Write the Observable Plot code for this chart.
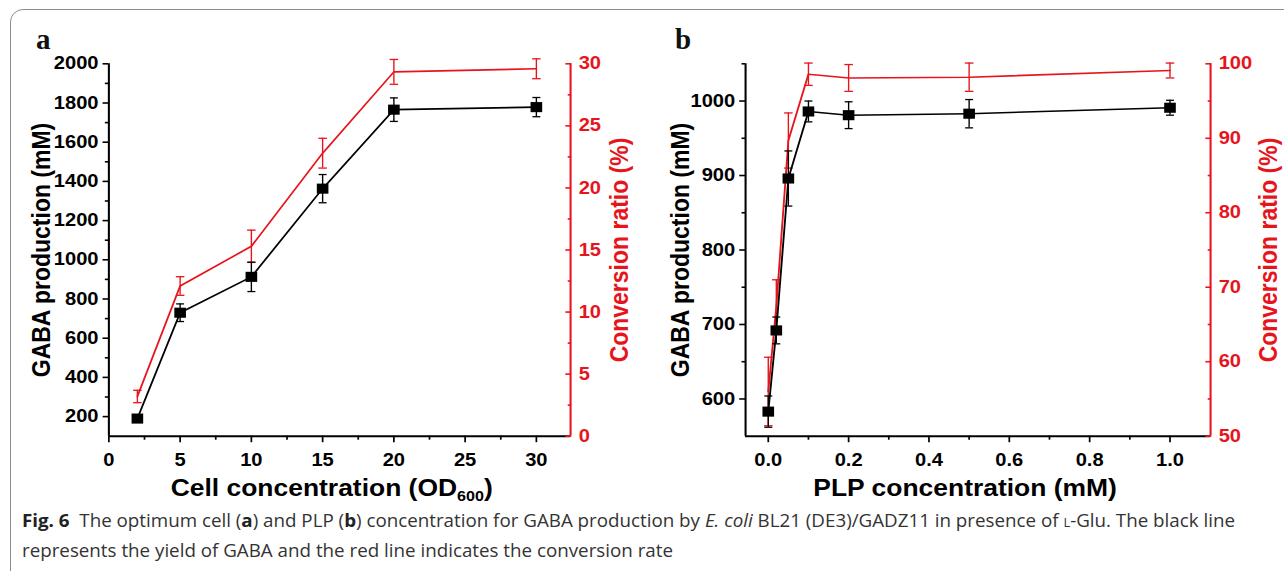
<!DOCTYPE html>
<html><head><meta charset="utf-8">
<script src="https://cdn.jsdelivr.net/npm/d3@7"></script>
<script src="https://cdn.jsdelivr.net/npm/@observablehq/plot@0.6"></script>
<style>
html,body{margin:0;padding:0;background:#fff;width:1284px;height:571px;overflow:hidden;position:relative;}
#frame{position:absolute;left:10px;top:9px;width:1320px;height:620px;border:1.5px solid #8c8c8c;border-radius:13px;box-sizing:border-box;}
.panel{position:absolute;top:20px;}
.plabel{position:absolute;font-family:"Liberation Serif","Times New Roman",serif;font-weight:bold;font-size:29px;line-height:29px;color:#111;}
#caption{position:absolute;left:22px;top:505px;font-family:"Open Sans","Noto Sans",sans-serif;font-size:17.5px;line-height:30px;color:#333;white-space:nowrap;transform-origin:left top;}
#caption b{font-weight:bold;color:#222;}
.sc{font-variant:small-caps;}
</style>
</head><body>
<div id="frame"></div>
<div id="panelA" class="panel" style="left:20px"></div>
<div id="panelB" class="panel" style="left:645px"></div>
<div class="plabel" style="left:36px;top:25px">a</div>
<div class="plabel" style="left:675px;top:25px">b</div>
<div id="caption"><span id="line1"><b>Fig. 6</b>&nbsp; The optimum cell (<b>a</b>) and PLP (<b>b</b>) concentration for GABA production by <i>E. coli</i> BL21 (DE3)/GADZ11 in presence of <span class="sc">l</span>-Glu. The black line</span><br>represents the yield of GABA and the red line indicates the conversion rate</div>
<script>
// ---------- data: panel a (cell concentration) ----------
const cellOD      = [2, 5, 10, 15, 20, 30];
const gabaA       = [190, 730, 913, 1363, 1766, 1779];
const gabaAErr    = [18, 45, 75, 72, 60, 49];
const convA       = [3.2, 12.1, 15.3, 22.8, 29.35, 29.6];
const convAErr    = [0.5, 0.75, 1.3, 1.2, 1.0, 0.8];
const xTicksA     = [0, 5, 10, 15, 20, 25, 30];
const xMinorA     = [2.5, 7.5, 12.5, 17.5, 22.5, 27.5];
const yTicksA     = [200, 400, 600, 800, 1000, 1200, 1400, 1600, 1800, 2000];
const yMinorA     = [300, 500, 700, 900, 1100, 1300, 1500, 1700, 1900];
const rTicksA     = [0, 5, 10, 15, 20, 25, 30];
const rMinorA     = [2.5, 7.5, 12.5, 17.5, 22.5, 27.5];

// ---------- data: panel b (PLP concentration) ----------
const plpConc     = [0, 0.02, 0.05, 0.1, 0.2, 0.5, 1.0];
const gabaB       = [583, 692, 896, 986, 981, 983, 991];
const gabaBErr    = [21, 18, 37, 14, 18, 19, 10];
const convB       = [56, 67.4, 89.7, 98.6, 98.1, 98.2, 99.1];
const convBErr    = [4.6, 3.6, 3.7, 1.5, 1.8, 1.9, 1.0];
const xTicksB     = [0, 0.2, 0.4, 0.6, 0.8, 1.0];
const xMinorB     = [0.1, 0.3, 0.5, 0.7, 0.9];
const yTicksB     = [600, 700, 800, 900, 1000];
const yMinorB     = [650, 750, 850, 950, 1050];
const rTicksB     = [50, 60, 70, 80, 90, 100];
const rMinorB     = [55, 65, 75, 85, 95];

const RED = "#e8141c";
const FONT = "'Liberation Sans', Arial, Helvetica, sans-serif";
const S = 1.15; // horizontal stretch of the original figure
const capSymbol = {draw(ctx, size) { const w = Math.sqrt(size) / 2; ctx.moveTo(-w, 0); ctx.lineTo(w, 0); }};

function makePanel(o) {
  const data = o.xs.map((x, i) => ({x, g: o.g[i], ge: o.ge[i], c: o.c[i], ce: o.ce[i]}));
  const conv = d3.scaleLinear(o.rDomain, o.yDomain);
  const tickTxt = {fontSize: 17.5, fontWeight: "bold", fontFamily: FONT};
  const titleTxt = {fontSize: 23, fontWeight: "bold", fontFamily: FONT, textAnchor: "middle"};
  const W = o.width / S;
  const el = Plot.plot({
    width: W, height: o.height,
    marginLeft: o.ml / S, marginRight: o.mr / S, marginTop: o.mt, marginBottom: o.mb,
    x: {domain: o.xDomain},
    y: {domain: o.yDomain},
    style: {fontFamily: FONT, background: "transparent", overflow: "visible"},
    marks: [
      // axis lines
      Plot.ruleX([o.xDomain[0]], {stroke: "black", strokeWidth: 1.8}),
      Plot.ruleX([o.xDomain[1]], {stroke: RED, strokeWidth: 1.8}),
      Plot.ruleY([o.yDomain[0]], {stroke: "black", strokeWidth: 2}),
      // x axis
      Plot.axisX(o.xTicks, {anchor: "bottom", tickSize: 6.5, tickPadding: 11, strokeWidth: 1.5, tickFormat: o.xFmt, label: null, ...tickTxt}),
      Plot.axisX(o.xMinor, {anchor: "bottom", tickSize: 4, strokeWidth: 1.5, tickFormat: () => "", label: null}),
      // left axis
      Plot.axisY(o.yTicks, {anchor: "left", tickSize: 5, tickPadding: 4, strokeWidth: 1.6, tickFormat: d => String(d), label: null, ...tickTxt}),
      Plot.axisY(o.yMinor, {anchor: "left", tickSize: 3, strokeWidth: 1.6, tickFormat: () => "", label: null}),
      // right axis (ticks point inward)
      Plot.axisY(o.rTicks.map(conv), {anchor: "right", tickSize: 5, dx: -5, strokeWidth: 1.6, color: RED, tickFormat: () => "", label: null}),
      Plot.axisY(o.rMinor.map(conv), {anchor: "right", tickSize: 3, dx: -3, strokeWidth: 1.6, color: RED, tickFormat: () => "", label: null}),
      Plot.axisY(o.rTicks.map(conv), {anchor: "right", tickSize: 0, tickPadding: 7, color: RED, fill: RED, tickFormat: d => String(Math.round(conv.invert(d))), label: null, ...tickTxt}),
      // axis titles
      Plot.text([o.yTitle], {frameAnchor: "left", dx: o.yTitleDx / S, rotate: -90, fill: "black", ...titleTxt}),
      Plot.text([o.rTitle], {frameAnchor: "right", dx: o.rTitleDx / S, rotate: -90, fill: RED, ...titleTxt}),
      Plot.text([o.xTitle], {frameAnchor: "bottom", dx: o.xTitleDx / S, dy: 60, fill: "black", ...titleTxt}),
      // red series: conversion ratio
      Plot.line(data, {x: "x", y: d => conv(d.c), stroke: RED, strokeWidth: 1.6}),
      Plot.ruleX(data, {x: "x", y1: d => conv(d.c - d.ce), y2: d => conv(d.c + d.ce), stroke: RED, strokeWidth: 1.2}),
      Plot.dot(data, {x: "x", y: d => conv(d.c + d.ce), symbol: capSymbol, r: 4.2, stroke: RED, fill: "none", strokeWidth: 1.3}),
      Plot.dot(data, {x: "x", y: d => conv(d.c - d.ce), symbol: capSymbol, r: 4.2, stroke: RED, fill: "none", strokeWidth: 1.3}),
      // black series: GABA production
      Plot.line(data, {x: "x", y: "g", stroke: "black", strokeWidth: 1.6}),
      Plot.ruleX(data, {x: "x", y1: d => d.g - d.ge, y2: d => d.g + d.ge, stroke: "black", strokeWidth: 1.2}),
      Plot.dot(data, {x: "x", y: d => d.g + d.ge, symbol: capSymbol, r: 3.9, stroke: "black", fill: "none", strokeWidth: 1.3}),
      Plot.dot(data, {x: "x", y: d => d.g - d.ge, symbol: capSymbol, r: 3.9, stroke: "black", fill: "none", strokeWidth: 1.3}),
      Plot.dot(data, {x: "x", y: "g", symbol: "square", r: 5.7, fill: "black", stroke: "none"})
    ]
  });
  const svg = el.tagName.toLowerCase() === "svg" ? el : el.querySelector("svg");
  svg.setAttribute("viewBox", `0 0 ${W} ${o.height}`);
  svg.setAttribute("preserveAspectRatio", "none");
  svg.style.maxWidth = "none";
  svg.style.width = o.width + "px";
  svg.style.height = o.height + "px";
  if (o.sub) {
    svg.querySelectorAll("text").forEach(t => {
      if (t.textContent === o.xTitle && t.childElementCount === 0) t.innerHTML = o.sub;
    });
  }
  return el;
}

document.getElementById("panelA").appendChild(makePanel({
  xs: cellOD, g: gabaA, ge: gabaAErr, c: convA, ce: convAErr,
  xDomain: [0, 32.4], yDomain: [100, 2000], rDomain: [0, 30],
  xTicks: xTicksA, xMinor: xMinorA, yTicks: yTicksA, yMinor: yMinorA, rTicks: rTicksA, rMinor: rMinorA,
  xFmt: d => String(d),
  width: 620, height: 490, ml: 88.3, mr: 70, mt: 43.3, mb: 74.3,
  yTitle: "GABA production (mM)", rTitle: "Conversion ratio (%)", xTitle: "Cell concentration (OD600)",
  sub: 'Cell concentration (OD<tspan dy="5" font-size="14">600</tspan><tspan dy="-5">)</tspan>',
  yTitleDx: -67, rTitleDx: 49, xTitleDx: -8
}));

document.getElementById("panelB").appendChild(makePanel({
  xs: plpConc, g: gabaB, ge: gabaBErr, c: convB, ce: convBErr,
  xDomain: [-0.0565, 1.101], yDomain: [550, 1050], rDomain: [50, 100],
  xTicks: xTicksB, xMinor: xMinorB, yTicks: yTicksB, yMinor: yMinorB, rTicks: rTicksB, rMinor: rMinorB,
  xFmt: d3.format(".1f"),
  width: 639, height: 490, ml: 100, mr: 74, mt: 43.3, mb: 74.3,
  yTitle: "GABA production (mM)", rTitle: "Conversion ratio (%)", xTitle: "PLP concentration (mM)",
  yTitleDx: -65, rTitleDx: 58, xTitleDx: -13
}));

// fit caption first line to the reference width
const l1 = document.getElementById("line1");
const w = l1.getBoundingClientRect().width;
document.getElementById("caption").style.transform = `scaleX(${1213 / w})`;
</script>
</body></html>
